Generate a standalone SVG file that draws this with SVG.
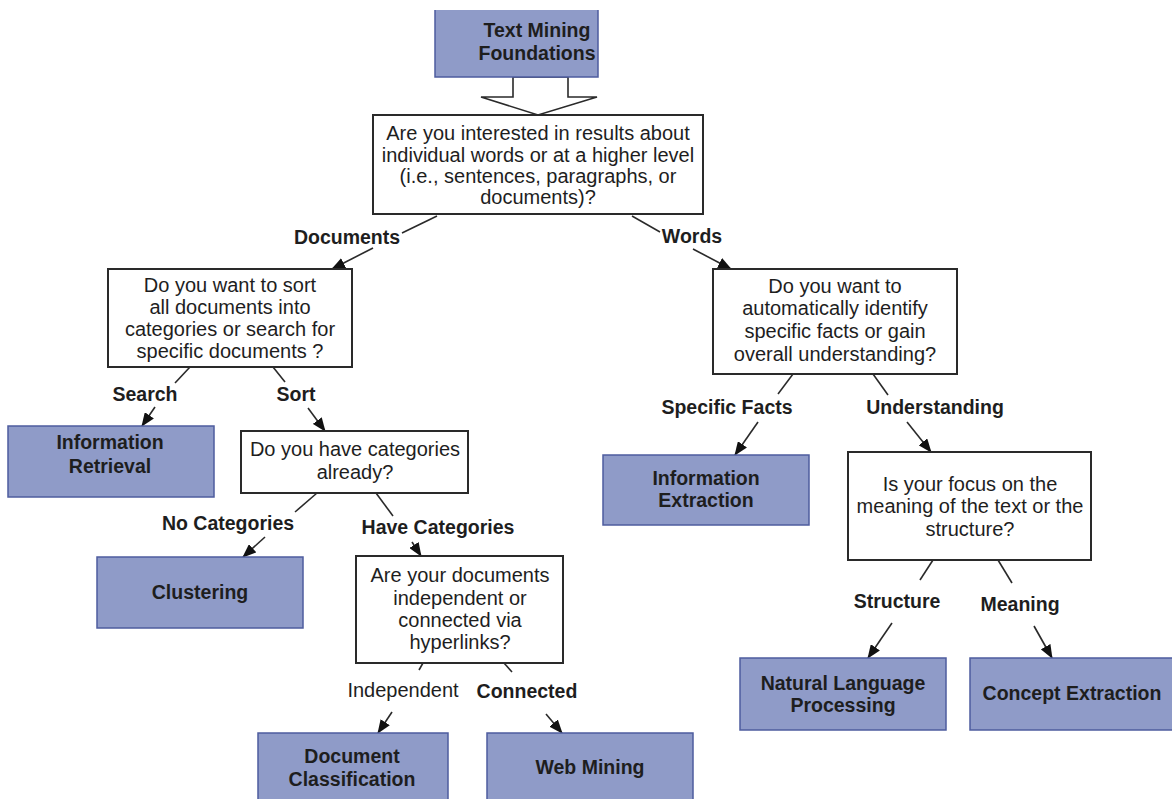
<svg xmlns="http://www.w3.org/2000/svg" width="1172" height="799" viewBox="0 0 1172 799">
<style>
.leaf{fill:#8f9bc8;stroke:#4e5c9e;stroke-width:1.5}
.q{fill:#fff;stroke:#2a2a2a;stroke-width:2}
.t{font-family:"Liberation Sans",Arial,sans-serif;font-size:20px;fill:#1e1e1e;text-anchor:middle}
.b{font-weight:bold;font-size:19.5px}
.c{stroke:#2a2a2a;stroke-width:1.6;fill:none}
</style>
<defs>
<marker id="ah" viewBox="0 0 14 11" refX="13" refY="5.5" markerWidth="14" markerHeight="11" markerUnits="userSpaceOnUse" orient="auto">
<path d="M0,0 L14,5.5 L0,11 Z" fill="#111"/>
</marker>
</defs>
<rect width="1172" height="799" fill="#fff"/>

<g id="connectors">
<polygon points="513,77 513,97 481,97 538,115 597,97 568,97 568,77" fill="#fff" stroke="#2a2a2a" stroke-width="1.6"/>
<line class="c" x1="437" y1="216" x2="402" y2="233"/>
<line class="c" x1="373" y1="248" x2="332" y2="269" marker-end="url(#ah)"/>
<line class="c" x1="632" y1="216" x2="660" y2="232"/>
<line class="c" x1="693" y1="249" x2="731" y2="269" marker-end="url(#ah)"/>
<line class="c" x1="190" y1="367" x2="175" y2="383"/>
<line class="c" x1="155" y1="407" x2="142" y2="426" marker-end="url(#ah)"/>
<line class="c" x1="273" y1="367" x2="285" y2="382"/>
<line class="c" x1="308" y1="408" x2="325" y2="431" marker-end="url(#ah)"/>
<line class="c" x1="317" y1="493" x2="295" y2="512"/>
<line class="c" x1="265" y1="537" x2="243" y2="557" marker-end="url(#ah)"/>
<line class="c" x1="376" y1="493" x2="393" y2="516"/>
<line class="c" x1="412" y1="542" x2="421" y2="556" marker-end="url(#ah)"/>
<line class="c" x1="423" y1="663" x2="419" y2="670"/>
<line class="c" x1="392" y1="712" x2="378" y2="733" marker-end="url(#ah)"/>
<line class="c" x1="504" y1="663" x2="512" y2="672"/>
<line class="c" x1="546" y1="714" x2="562" y2="733" marker-end="url(#ah)"/>
<line class="c" x1="793" y1="374" x2="778" y2="394"/>
<line class="c" x1="758" y1="422" x2="735" y2="455" marker-end="url(#ah)"/>
<line class="c" x1="873" y1="374" x2="888" y2="395"/>
<line class="c" x1="907" y1="422" x2="931" y2="452" marker-end="url(#ah)"/>
<line class="c" x1="933" y1="560" x2="920" y2="580"/>
<line class="c" x1="892" y1="623" x2="868" y2="658" marker-end="url(#ah)"/>
<line class="c" x1="998" y1="560" x2="1012" y2="583"/>
<line class="c" x1="1034" y1="626" x2="1052" y2="658" marker-end="url(#ah)"/>
<text class="t b" x="347" y="244">Documents</text>
<text class="t b" x="692" y="243">Words</text>
<text class="t b" x="145" y="401">Search</text>
<text class="t b" x="296" y="401">Sort</text>
<text class="t b" x="228" y="530">No Categories</text>
<text class="t b" x="438" y="534">Have Categories</text>
<text class="t" x="403" y="697">Independent</text>
<text class="t b" x="527" y="698">Connected</text>
<text class="t b" x="727" y="414">Specific Facts</text>
<text class="t b" x="935" y="414">Understanding</text>
<text class="t b" x="897" y="608">Structure</text>
<text class="t b" x="1020" y="611">Meaning</text>
</g>

<g id="root">
<rect x="435" y="10" width="163" height="67" fill="#8f9bc8"/>
<path d="M435,10 V77 H598 V10" fill="none" stroke="#4e5c9e" stroke-width="1.5"/>
<text class="t b" x="537" y="37">Text Mining</text>
<text class="t b" x="537" y="60">Foundations</text>
</g>

<g id="q-level">
<rect class="q" x="373" y="115" width="330" height="99"/>
<text class="t" x="538" y="140">Are you interested in results about</text>
<text class="t" x="538" y="162">individual words or at a higher level</text>
<text class="t" x="538" y="183">(i.e., sentences, paragraphs, or</text>
<text class="t" x="538" y="204">documents)?</text>
</g>

<g id="q-sort">
<rect class="q" x="108" y="269" width="244" height="98"/>
<text class="t" x="230" y="292">Do you want to sort</text>
<text class="t" x="230" y="314">all documents into</text>
<text class="t" x="230" y="336">categories or search for</text>
<text class="t" x="230" y="358">specific documents ?</text>
</g>

<g id="information-retrieval">
<rect class="leaf" x="8" y="426" width="206" height="71"/>
<text class="t b" x="110" y="449">Information</text>
<text class="t b" x="110" y="473">Retrieval</text>
</g>

<g id="q-categories">
<rect class="q" x="241" y="431" width="227" height="62"/>
<text class="t" x="355" y="456">Do you have categories</text>
<text class="t" x="355" y="479">already?</text>
</g>

<g id="clustering">
<rect class="leaf" x="97" y="557" width="206" height="71"/>
<text class="t b" x="200" y="599">Clustering</text>
</g>

<g id="q-hyperlinks">
<rect class="q" x="356" y="556" width="207" height="107"/>
<text class="t" x="460" y="582">Are your documents</text>
<text class="t" x="460" y="605">independent or</text>
<text class="t" x="460" y="627">connected via</text>
<text class="t" x="460" y="649">hyperlinks?</text>
</g>

<g id="document-classification">
<rect class="leaf" x="258" y="733" width="190" height="70"/>
<text class="t b" x="352" y="763">Document</text>
<text class="t b" x="352" y="786">Classification</text>
</g>

<g id="web-mining">
<rect class="leaf" x="487" y="733" width="206" height="70"/>
<text class="t b" x="590" y="774">Web Mining</text>
</g>

<g id="q-facts">
<rect class="q" x="713" y="269" width="244" height="105"/>
<text class="t" x="835" y="293">Do you want to</text>
<text class="t" x="835" y="315">automatically identify</text>
<text class="t" x="835" y="338">specific facts or gain</text>
<text class="t" x="835" y="361">overall understanding?</text>
</g>

<g id="information-extraction">
<rect class="leaf" x="603" y="455" width="206" height="70"/>
<text class="t b" x="706" y="485">Information</text>
<text class="t b" x="706" y="507">Extraction</text>
</g>

<g id="q-focus">
<rect class="q" x="848" y="452" width="243" height="108"/>
<text class="t" x="970" y="491">Is your focus on the</text>
<text class="t" x="970" y="513">meaning of the text or the</text>
<text class="t" x="970" y="536">structure?</text>
</g>

<g id="nlp">
<rect class="leaf" x="740" y="658" width="206" height="72"/>
<text class="t b" x="843" y="690">Natural Language</text>
<text class="t b" x="843" y="712">Processing</text>
</g>

<g id="concept-extraction">
<rect class="leaf" x="970" y="658" width="210" height="72"/>
<text class="t b" x="1072" y="700">Concept Extraction</text>
</g>
</svg>
